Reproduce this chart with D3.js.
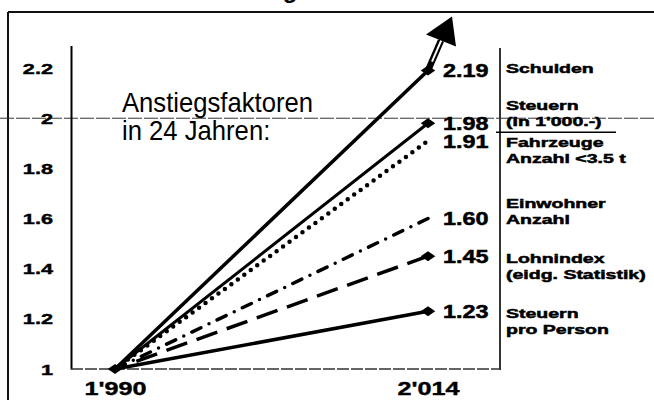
<!DOCTYPE html>
<html>
<head>
<meta charset="utf-8">
<script src="https://cdn.jsdelivr.net/npm/d3@7"></script>
<style>
  body { margin: 0; background: #fff; }
  svg { display: block; font-family: "Liberation Sans", Arial, sans-serif; }
</style>
</head>
<body>
<div id="chart"></div>
<script>
// data
var years = [1990, 2014];
var yearLabels = ["1'990", "2'014"];
var seriesNames = ["Schulden", "Steuern", "Fahrzeuge", "Einwohner", "Lohnindex", "Steuern pro Person"];
var startValues = [1, 1, 1, 1, 1, 1];
var endValues = [2.19, 1.98, 1.91, 1.60, 1.45, 1.23];
var valueLabels = ["2.19", "1.98", "1.91", "1.60", "1.45", "1.23"];
var legendLines = [
    ["Schulden"],
    ["Steuern", "(In 1'000.-)"],
    ["Fahrzeuge", "Anzahl <3.5 t"],
    ["Einwohner", "Anzahl"],
    ["Lohnindex", "(eidg. Statistik)"],
    ["Steuern", "pro Person"]
];
var yTicks = [1, 1.2, 1.4, 1.6, 1.8, 2, 2.2];
var yTickLabels = ["1", "1.2", "1.4", "1.6", "1.8", "2", "2.2"];

function init() {
    var w = 654;
    var h = 400;
    var plotLeft = 71;
    var plotRight = 500;
    var plotBottom = 369;

    // line styles per series
    var widths = [3.5, 3, 4.5, 3.5, 3.5, 3.5];
    var dashes = [null, null, "0,8", "10,9,0,9", "22,10", null];
    var caps = ["butt", "butt", "round", "round", "butt", "butt"];
    var hasMarker = [true, true, false, false, true, true];
    var legendShift = [-5, -20, -1, -18, 0, 0];

    var xScale = d3.scaleLinear()
                   .domain([1990, 2014])
                   .range([115, 428]);

    var yScale = d3.scaleLinear()
                   .domain([1, 2.29])
                   .range([plotBottom, 45.5]);

    var svg = d3.select("#chart")
                .append("svg")
                .attr("width", w)
                .attr("height", h);

    // title, almost entirely cut off at the top
    svg.append("text")
       .attr("x", 156)
       .attr("y", -2)
       .attr("font-size", 24)
       .attr("font-weight", "bold")
       .text("Entwicklung");

    // outer frame
    svg.append("line")
       .attr("x1", 8).attr("x2", w)
       .attr("y1", 12).attr("y2", 12)
       .attr("stroke", "#111").attr("stroke-width", 2);
    svg.append("line")
       .attr("x1", 8).attr("x2", 8)
       .attr("y1", 12).attr("y2", h)
       .attr("stroke", "#111").attr("stroke-width", 2);

    // line at factor 2 across the whole picture
    svg.append("line")
       .attr("x1", 0).attr("x2", w)
       .attr("y1", yScale(2)).attr("y2", yScale(2))
       .attr("stroke", "#333")
       .attr("stroke-width", 1)
       .attr("stroke-dasharray", "14,2");

    // y axis
    var yAxis = d3.axisLeft(yScale)
                  .tickValues(yTicks)
                  .tickFormat(function(d, i) { return yTickLabels[i]; })
                  .tickSize(0)
                  .tickSizeOuter(0);

    var gy = svg.append("g")
                .attr("transform", "translate(" + plotLeft + ",0)")
                .call(yAxis);
    gy.select(".domain").attr("stroke", "#000").attr("stroke-width", 2);
    gy.selectAll("text")
      .attr("x", -18 / 1.55)
      .attr("dy", "0.36em")
      .attr("transform", "scale(1.55,1)")
      .attr("font-size", 14)
      .attr("font-weight", "bold")
      .attr("font-family", "'Liberation Sans', Arial, sans-serif")
      .attr("fill", "#000")
      .attr("stroke", "#000")
      .attr("stroke-width", 0.4);

    // x axis
    var xAxis = d3.axisBottom(xScale)
                  .tickValues(years)
                  .tickFormat(function(d, i) { return yearLabels[i]; })
                  .tickSize(0);

    var gx = svg.append("g")
                .attr("transform", "translate(0," + plotBottom + ")")
                .call(xAxis);
    gx.select(".domain").remove();
    gx.selectAll("text")
      .attr("y", 26)
      .attr("dy", 0)
      .attr("transform", "scale(1.4,1)")
      .attr("font-size", 18)
      .attr("font-weight", "bold")
      .attr("font-family", "'Liberation Sans', Arial, sans-serif")
      .attr("fill", "#000")
      .attr("stroke", "#000")
      .attr("stroke-width", 0.4);

    // base line and right border of the plot
    svg.append("line")
       .attr("x1", plotLeft).attr("x2", plotRight)
       .attr("y1", plotBottom).attr("y2", plotBottom)
       .attr("stroke", "#333")
       .attr("stroke-width", 1.5)
       .attr("stroke-dasharray", "12,2");
    svg.append("line")
       .attr("x1", plotRight).attr("x2", plotRight)
       .attr("y1", 48).attr("y2", plotBottom + 1)
       .attr("stroke", "#333")
       .attr("stroke-width", 2);

    // annotation
    var note = svg.append("g")
                  .attr("transform", "translate(122,112) scale(0.95,1)");
    note.selectAll("text")
        .data(["Anstiegsfaktoren", "in 24 Jahren:"])
        .enter()
        .append("text")
        .attr("y", function(d, i) { return i * 28; })
        .attr("font-size", 27)
        .text(function(d) { return d; });

    // series lines (dashed ones drawn from 2014 back so the pattern meets the end point)
    var line = d3.line()
                 .x(function(d) { return xScale(d[0]); })
                 .y(function(d) { return yScale(d[1]); });

    svg.selectAll("path.series")
       .data(endValues)
       .enter()
       .append("path")
       .attr("class", "series")
       .attr("d", function(d, i) {
           var pts = [[years[0], startValues[i]], [years[1], d]];
           if (dashes[i] && i !== 2) pts.reverse();
           return line(pts);
       })
       .attr("fill", "none")
       .attr("stroke", "#000")
       .attr("stroke-width", function(d, i) { return widths[i]; })
       .attr("stroke-dasharray", function(d, i) { return dashes[i]; })
       .attr("stroke-linecap", function(d, i) { return caps[i]; });

    // arrow on top of the debt line
    var ax = xScale(years[1]);
    var ay = yScale(endValues[0]);
    svg.append("line")
       .attr("x1", ax).attr("y1", ay)
       .attr("x2", ax + 13).attr("y2", ay - 30)
       .attr("stroke", "#000").attr("stroke-width", 6.5);
    svg.append("line")
       .attr("x1", ax + 4).attr("y1", ay - 9)
       .attr("x2", ax + 14).attr("y2", ay - 32)
       .attr("stroke", "#fff").attr("stroke-width", 2);
    svg.append("path")
       .attr("d", "M" + (ax - 2) + "," + (ay - 36) +
                  "L" + (ax + 24) + "," + (ay - 54) +
                  "L" + (ax + 28) + "," + (ay - 24) + "Z")
       .attr("fill", "#000");

    // diamond markers
    var diamond = d3.symbol().type(d3.symbolSquare).size(50);
    var markerPts = [[years[0], startValues[0]]];
    endValues.forEach(function(d, i) {
        if (hasMarker[i]) markerPts.push([years[1], d]);
    });
    svg.selectAll("path.marker")
       .data(markerPts)
       .enter()
       .append("path")
       .attr("class", "marker")
       .attr("d", diamond)
       .attr("transform", function(d) {
           return "translate(" + xScale(d[0]) + "," + yScale(d[1]) + ") scale(1.45,1) rotate(45)";
       })
       .attr("fill", "#000");

    // value labels
    svg.selectAll("g.value")
       .data(endValues)
       .enter()
       .append("g")
       .attr("class", "value")
       .attr("transform", function(d) {
           return "translate(" + (xScale(years[1]) + 15) + "," + yScale(d) + ") scale(1.3,1)";
       })
       .append("text")
       .attr("dy", "0.38em")
       .attr("font-size", 18)
       .attr("font-weight", "bold")
       .attr("stroke", "#000")
       .attr("stroke-width", 0.5)
       .text(function(d, i) { return valueLabels[i]; });

    // legend texts right of the plot
    var legend = svg.selectAll("g.legend")
                    .data(legendLines)
                    .enter()
                    .append("g")
                    .attr("class", "legend")
                    .attr("transform", function(d, i) {
                        return "translate(506," + (yScale(endValues[i]) + 7 + legendShift[i]) + ") scale(1.5,1)";
                    });
    legend.selectAll("text")
          .data(function(d) { return d; })
          .enter()
          .append("text")
          .attr("y", function(d, i) { return i * 16; })
          .attr("font-size", 13)
          .attr("font-weight", "bold")
          .attr("stroke", "#000")
          .attr("stroke-width", 0.5)
          .text(function(d) { return d; });

    // separator under "Steuern (In 1'000.-)"
    var sepY = yScale(endValues[1]) + 7 + legendShift[1] + 22;
    svg.append("line")
       .attr("x1", 496).attr("x2", 616)
       .attr("y1", sepY).attr("y2", sepY)
       .attr("stroke", "#000")
       .attr("stroke-width", 1.5);
}

window.onload = init;
</script>
</body>
</html>
